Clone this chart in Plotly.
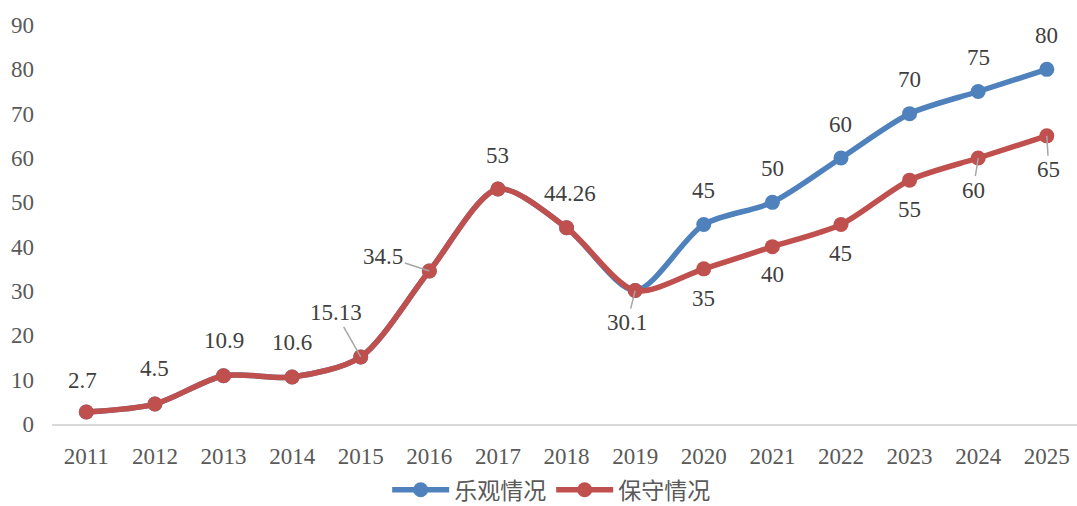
import plotly.graph_objects as go

years = ["2011", "2012", "2013", "2014", "2015", "2016", "2017", "2018",
         "2019", "2020", "2021", "2022", "2023", "2024", "2025"]
optimistic = [2.7, 4.5, 10.9, 10.6, 15.13, 34.5, 53, 44.26, 30.1, 45, 50, 60, 70, 75, 80]
conservative = [2.7, 4.5, 10.9, 10.6, 15.13, 34.5, 53, 44.26, 30.1, 35, 40, 45, 55, 60, 65]
conservative_text = ["2.7", "4.5", "10.9", "10.6", "15.13", "34.5", "53", "44.26",
                     "30.1", "35", "40", "45", "55", "60", "65"]
optimistic_text = ["45", "50", "60", "70", "75", "80"]
optimistic_label_years = ["2020", "2021", "2022", "2023", "2024", "2025"]
y_ticks = [0, 10, 20, 30, 40, 50, 60, 70, 80, 90]

BLUE = "#4F81BD"
RED = "#C0504D"
TXT = "#404040"
TICK = "#595959"
FONT = "Liberation Serif, Times New Roman, Noto Sans CJK SC, serif"
FS = 23

fig = go.Figure()
fig.add_trace(go.Scatter(
    x=years, y=optimistic, name="乐观情况", mode="lines+markers",
    line=dict(color=BLUE, width=5.5, shape="spline", smoothing=0.8),
    marker=dict(size=15, color=BLUE), hoverinfo="skip"))
fig.add_trace(go.Scatter(
    x=years, y=conservative, name="保守情况", mode="lines+markers",
    line=dict(color=RED, width=5.5, shape="spline", smoothing=0.8),
    marker=dict(size=15, color=RED), hoverinfo="skip"))

# label placement style: (dx, dy) pixel offsets of text centre, leader line flag
red_style = [(-4, -32, False), (0, -36, False), (0, -35, False), (0, -35, False),
             (-25, -44, True), (-46, -15, True), (0, -34, False), (3, -34, False),
             (-8, 32, True), (0, 30, False), (0, 28, False), (0, 29, False),
             (0, 29, False), (-5, 32, True), (2, 34, True)]
for i, (v, t, (dx, dy, arrow)) in enumerate(zip(conservative, conservative_text, red_style)):
    if arrow:
        fig.add_annotation(x=i, y=v, text=t, showarrow=True, ax=dx, ay=dy,
                           arrowhead=0, arrowwidth=1.5, arrowcolor="#A6A6A6",
                           standoff=0, font=dict(size=FS, color=TXT, family=FONT))
    else:
        fig.add_annotation(x=i, y=v, text=t, showarrow=False, xshift=dx, yshift=-dy,
                           font=dict(size=FS, color=TXT, family=FONT))

for yr, t in zip(optimistic_label_years, optimistic_text):
    i = years.index(yr)
    fig.add_annotation(x=i, y=optimistic[i], text=t, showarrow=False, yshift=34,
                       font=dict(size=FS, color=TXT, family=FONT))

fig.update_layout(
    width=1077, height=506,
    margin=dict(l=52, r=0, t=25, b=82, autoexpand=False),
    paper_bgcolor="white", plot_bgcolor="white",
    font=dict(family=FONT, size=FS, color=TICK),
    showlegend=True,
    legend=dict(orientation="h", x=0.487, xanchor="center", yref="container",
                y=0.032, yanchor="middle",
                font=dict(size=FS, color=TICK, family=FONT), tracegroupgap=0,
                itemwidth=57),
    hovermode=False,
)
fig.update_xaxes(type="category", range=[-0.5, 14.44], showgrid=False,
                 showline=True, linecolor="#D9D9D9", linewidth=2, ticks="",
                 tickfont=dict(size=FS, color=TICK, family=FONT),
                 ticklabelstandoff=10, zeroline=False, automargin=False)
fig.update_yaxes(range=[0, 90], tickvals=y_ticks, showgrid=False, showline=False,
                 zeroline=False, ticks="", tickfont=dict(size=FS, color=TICK, family=FONT),
                 ticklabelstandoff=17, automargin=False)

fig.write_html("out.html", config={"displayModeBar": False},
               post_script="document.body.style.margin='0';document.body.style.overflow='hidden';")
